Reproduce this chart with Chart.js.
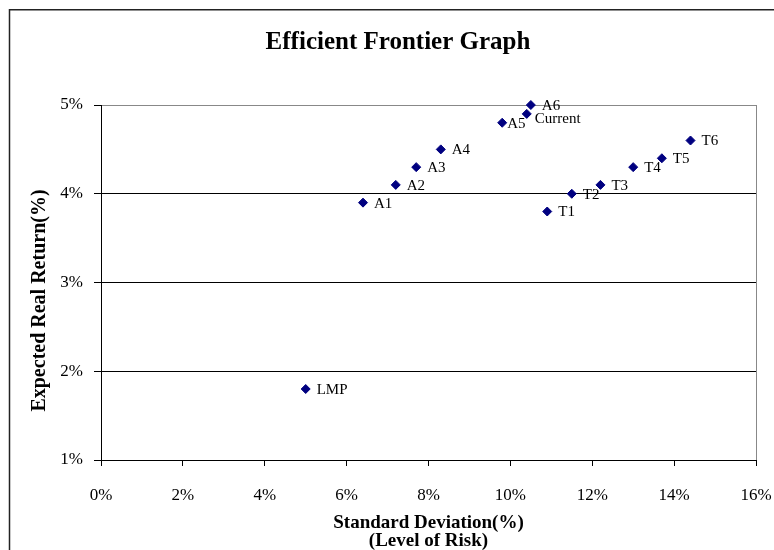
<!DOCTYPE html>
<html>
<head>
<meta charset="utf-8">
<script src="https://cdn.jsdelivr.net/npm/chart.js@4.4.1/dist/chart.umd.min.js"></script>
<style>
  html, body { margin: 0; padding: 0; background: #fff; overflow: hidden; }
  #wrap { position: relative; width: 796px; height: 550px; }
</style>
</head>
<body>
<div id="wrap"><canvas id="frontierChart"></canvas></div>
<script>
// datos
const portfolios = ['LMP', 'A1', 'A2', 'A3', 'A4', 'A5', 'Current', 'A6', 'T1', 'T2', 'T3', 'T4', 'T5', 'T6'];
const stdDev = [5.0, 6.4, 7.2, 7.7, 8.3, 9.8, 10.4, 10.5, 10.9, 11.5, 12.2, 13.0, 13.7, 14.4];
const expReturn = [1.8, 3.9, 4.1, 4.3, 4.5, 4.8, 4.9, 5.0, 3.8, 4.0, 4.1, 4.3, 4.4, 4.6];
const xTicks = [0, 2, 4, 6, 8, 10, 12, 14, 16];
const yTicks = [1, 2, 3, 4, 5];

const serif = "'Liberation Serif', 'Times New Roman', serif";

// marco exterior del grafico (recortado a la derecha y abajo como en la imagen)
const framePlugin = {
    id: 'frame',
    beforeDraw(chart) {
        const ctx = chart.ctx;
        ctx.save();
        ctx.fillStyle = '#fff';
        ctx.fillRect(0, 0, chart.width, chart.height);
        ctx.strokeStyle = '#222';
        ctx.lineWidth = 1.5;
        ctx.strokeRect(9.5, 9.75, 776, 560);
        ctx.restore();
    }
};

// titulo del eje Y (un poco por debajo del centro, como en Excel)
const yTitlePlugin = {
    id: 'yTitle',
    afterDraw(chart) {
        const ctx = chart.ctx;
        const area = chart.chartArea;
        ctx.save();
        ctx.translate(40, (area.top + area.bottom) / 2 + 18);
        ctx.rotate(-Math.PI / 2);
        ctx.font = 'bold 20px ' + serif;
        ctx.fillStyle = '#000';
        ctx.textAlign = 'center';
        ctx.textBaseline = 'middle';
        ctx.fillText('Expected Real Return(%)', 0, 0);
        ctx.restore();
    }
};

// etiquetas junto a cada punto
const labelOffsets = { 'A5': [5, 1], 'Current': [8, 5] };
const pointLabels = {
    id: 'pointLabels',
    afterDatasetsDraw(chart) {
        const ctx = chart.ctx;
        const meta = chart.getDatasetMeta(0);
        ctx.save();
        ctx.font = '15px ' + serif;
        ctx.fillStyle = '#000';
        ctx.textBaseline = 'middle';
        ctx.textAlign = 'left';
        meta.data.forEach((pt, i) => {
            const name = portfolios[i];
            const off = labelOffsets[name] || [11, 1];
            ctx.fillText(name, pt.x + off[0], pt.y + off[1]);
        });
        ctx.restore();
    }
};

const ctxFrontier = document.getElementById('frontierChart');
new Chart(ctxFrontier, {
    type: 'scatter',
    data: {
        datasets: [{
            label: 'Portfolios',
            data: portfolios.map((p, i) => ({ x: stdDev[i], y: expReturn[i] })),
            backgroundColor: '#000080',
            borderColor: '#000080',
            pointStyle: 'rectRot',
            pointRadius: 4.5,
            pointHoverRadius: 4.5,
            clip: false
        }]
    },
    options: {
        responsive: true,
        maintainAspectRatio: false,
        animation: false,
        layout: { padding: { left: 40, right: 40, top: 0, bottom: 0 } },
        plugins: {
            legend: { display: false },
            tooltip: { enabled: false },
            title: {
                display: true,
                text: 'Efficient Frontier Graph',
                color: '#000',
                font: { family: serif, size: 25, weight: 'bold', lineHeight: 1.2 },
                padding: { top: 28, bottom: 47 }
            }
        },
        scales: {
            x: {
                type: 'linear',
                min: xTicks[0],
                max: xTicks[xTicks.length - 1],
                afterFit: s => { s.height = 90; },
                afterBuildTicks: s => { s.ticks = xTicks.map(v => ({ value: v })); },
                ticks: {
                    color: '#000',
                    font: { family: serif, size: 17 },
                    padding: 19,
                    maxRotation: 0,
                    callback: v => v + '%'
                },
                grid: {
                    drawOnChartArea: true,
                    color: c => (c.tick && c.tick.value === 16) ? '#888' : 'rgba(0,0,0,0)',
                    tickColor: '#000',
                    tickLength: 6,
                    lineWidth: 1
                },
                border: { display: true, color: '#000', width: 1 },
                title: {
                    display: true,
                    text: ['Standard Deviation(%)', '(Level of Risk)'],
                    color: '#000',
                    font: { family: serif, size: 19, weight: 'bold', lineHeight: '18px' },
                    padding: { top: 0, bottom: 0 }
                }
            },
            y: {
                type: 'linear',
                min: yTicks[0],
                max: yTicks[yTicks.length - 1],
                afterFit: s => { s.width = 61; },
                afterBuildTicks: s => { s.ticks = yTicks.map(v => ({ value: v })); },
                ticks: {
                    color: '#000',
                    font: { family: serif, size: 17 },
                    padding: 11,
                    callback: v => v + '%'
                },
                grid: {
                    color: c => (c.tick && c.tick.value === 5) ? '#888' : '#000',
                    tickColor: '#000',
                    tickLength: 7,
                    lineWidth: 1
                },
                border: { display: true, color: '#000', width: 1 },
                title: { display: false }
            }
        }
    },
    plugins: [framePlugin, pointLabels, yTitlePlugin]
});
</script>
</body>
</html>
